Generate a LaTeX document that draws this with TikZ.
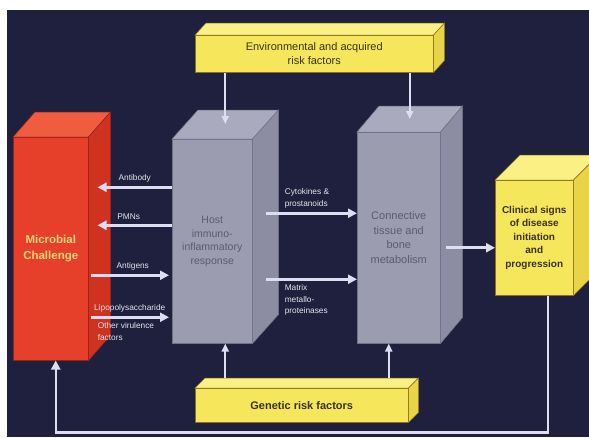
\documentclass[tikz,border=0pt]{standalone}
\usepackage{fontspec}
\setsansfont{Liberation Sans}
\RequirePackage{xcolor}
\definecolor{navybg}{RGB}{30,32,62}
\definecolor{microred}{RGB}{230,64,42}
\definecolor{microtop}{RGB}{240,92,62}
\definecolor{microside}{RGB}{208,50,34}
\definecolor{microedge}{RGB}{150,34,22}
\definecolor{microtext}{RGB}{246,212,120}
\definecolor{hostgray}{RGB}{156,156,176}
\definecolor{hosttop}{RGB}{170,170,190}
\definecolor{hostside}{RGB}{140,140,162}
\definecolor{hostedge}{RGB}{112,112,134}
\definecolor{hosttext}{RGB}{92,92,112}
\definecolor{riskyellow}{RGB}{246,230,92}
\definecolor{risktop}{RGB}{250,240,132}
\definecolor{riskside}{RGB}{232,212,70}
\definecolor{riskedge}{RGB}{140,112,30}
\definecolor{risktext}{RGB}{58,50,22}
\definecolor{arrowwhite}{RGB}{222,222,242}
\definecolor{labelwhite}{RGB}{228,228,238}
\tikzset{every picture/.style={/utils/exec={\sffamily}}}
\usetikzlibrary{calc}
\usetikzlibrary{positioning}
\usetikzlibrary{arrows.meta}

\begin{document}
\begin{tikzpicture}[x=1pt, y=-1pt,
  box/.style={anchor=north west, inner sep=0pt, align=center, line width=0.5pt},
  flow/.style={-{Triangle[length=9pt,width=9pt]}, line width=2.6pt, arrowwhite},
  lbl/.style={inner sep=0pt, text=labelwhite, align=left,
    font=\fontsize{8.3}{11.5}\selectfont}]

  \useasboundingbox (0,0) rectangle (589,437);
  \clip (0,0) rectangle (589,437);
  \fill [white] (0,0) rectangle (589,437);
  \fill [navybg] (7,10) rectangle (589,437);

  % front faces
  \node [box, fill=microred, draw=microedge, text=microtext,
    minimum width=75pt, minimum height=223pt,
    font=\bfseries\fontsize{11.5}{16}\selectfont] (micro) at (13,137) {Microbial\\Challenge};
  \node [box, fill=hostgray, draw=hostedge, text=hosttext,
    minimum width=80pt, minimum height=204pt,
    font=\fontsize{10.5}{13.5}\selectfont] (host) at (172,139) {Host\\immuno-\\inflammatory\\response};
  \node [box, fill=hostgray, draw=hostedge, text=hosttext,
    minimum width=83pt, minimum height=211pt,
    font=\fontsize{11}{14.5}\selectfont] (conn) at (357,132) {Connective\\tissue and\\bone\\metabolism};
  \node [box, fill=riskyellow, draw=riskedge, text=risktext,
    minimum width=78pt, minimum height=115pt,
    font=\bfseries\fontsize{10}{13.5}\selectfont] (clin) at (495,180) {Clinical signs\\of disease\\initiation\\and\\progression};
  \node [box, fill=riskyellow, draw=riskedge, text=risktext,
    minimum width=238pt, minimum height=37pt,
    font=\fontsize{11}{14.5}\selectfont] (env) at (195,35) {Environmental and acquired\\risk factors};
  \node [box, fill=riskyellow, draw=riskedge, text=risktext,
    minimum width=213pt, minimum height=34pt,
    font=\bfseries\fontsize{11}{14}\selectfont] (gen) at (195,388) {Genetic risk factors};

  % top and side faces
  \foreach \n/\dx/\dy/\tc/\sc/\ec in {micro/22/25/microtop/microside/microedge,
      host/26/29/hosttop/hostside/hostedge, conn/22/26/hosttop/hostside/hostedge,
      clin/25/25/risktop/riskside/riskedge, env/11/12/risktop/riskside/riskedge,
      gen/10/10/risktop/riskside/riskedge} {
    \draw [\ec, fill=\tc, line width=0.5pt] (\n.north west) -- ++(\dx,-\dy)
      -- ([shift={(\dx,-\dy)}]\n.north east) -- (\n.north east) -- cycle;
    \draw [\ec, fill=\sc, line width=0.5pt] (\n.north east) -- ++(\dx,-\dy)
      -- ([shift={(\dx,-\dy)}]\n.south east) -- (\n.south east) -- cycle;
  }

  \coordinate (hostlid) at ($(host.north)+(13,-15)$);
  \coordinate (connlid) at ($(conn.north)+(11,-13)$);

  % risk factors
  \draw [flow, line width=2pt, -{Triangle[length=8pt,width=7pt]}] (env.south -| hostlid) -- (hostlid);
  \draw [flow, line width=2pt, -{Triangle[length=8pt,width=7pt]}] (env.south -| connlid) -- (connlid);
  \draw [flow, line width=2pt, -{Triangle[length=8pt,width=7pt]}] ([shift={(13pt,10pt)}]gen.north -| host.south) -- ([xshift=13pt]host.south);
  \draw [flow, line width=2pt, -{Triangle[length=8pt,width=7pt]}] ([shift={(-10pt,10pt)}]gen.north -| conn.south) -- ([xshift=-10pt]conn.south);

  % microbes vs host
  \coordinate (abody) at ([yshift=54pt]host.west);
  \coordinate (pmn) at ([yshift=16pt]host.west);
  \coordinate (antigen) at ([shift={(-3pt,-34pt)}]host.west);
  \coordinate (lpsend) at ([shift={(-3pt,-76pt)}]host.west);

  \draw [flow] (abody) -- ([xshift=9pt]micro.east |- abody)
    node [lbl, midway, above=4pt] (antibody) {Antibody};
  \draw [flow] (pmn) -- ([xshift=9pt]micro.east |- pmn)
    node [lbl, midway, above=4pt, xshift=-6pt] (pmns) {PMNs};
  \draw [flow] ([xshift=2pt]micro.east |- antigen) -- (antigen)
    node [lbl, midway, above=4pt, xshift=3pt] (antigens) {Antigens};
  \draw [flow] ([xshift=2pt]micro.east |- lpsend) -- (lpsend)
    node [lbl, midway, above=4pt] (lps) {Lipopolysaccharide}
    node [lbl, pos=0, below right=4pt and 6pt] (virulence) {Other virulence\\factors};

  % host to tissue
  \coordinate (cytoend) at ([yshift=28pt]host.east -| conn.west);
  \coordinate (mmpend) at ([yshift=-38pt]host.east -| conn.west);
  \draw [flow] ([xshift=13pt]host.east |- cytoend) -- (cytoend)
    node [lbl, pos=0, above right=4pt and 18pt] (cytokines) {Cytokines \&\\prostanoids};
  \draw [flow] ([xshift=13pt]host.east |- mmpend) -- (mmpend)
    node [lbl, pos=0, below right=4pt and 18pt] (mmps) {Matrix\\metallo-\\proteinases};
  \draw [flow] ([shift={(5pt,-10pt)}]conn.east) -- ([yshift=-10pt]clin.west);

  % feedback
  \draw [flow, line width=2.2pt] ([xshift=14pt]clin.south) -- ++(0,137) -| ([xshift=5pt]micro.south);

\end{tikzpicture}
\end{document}
